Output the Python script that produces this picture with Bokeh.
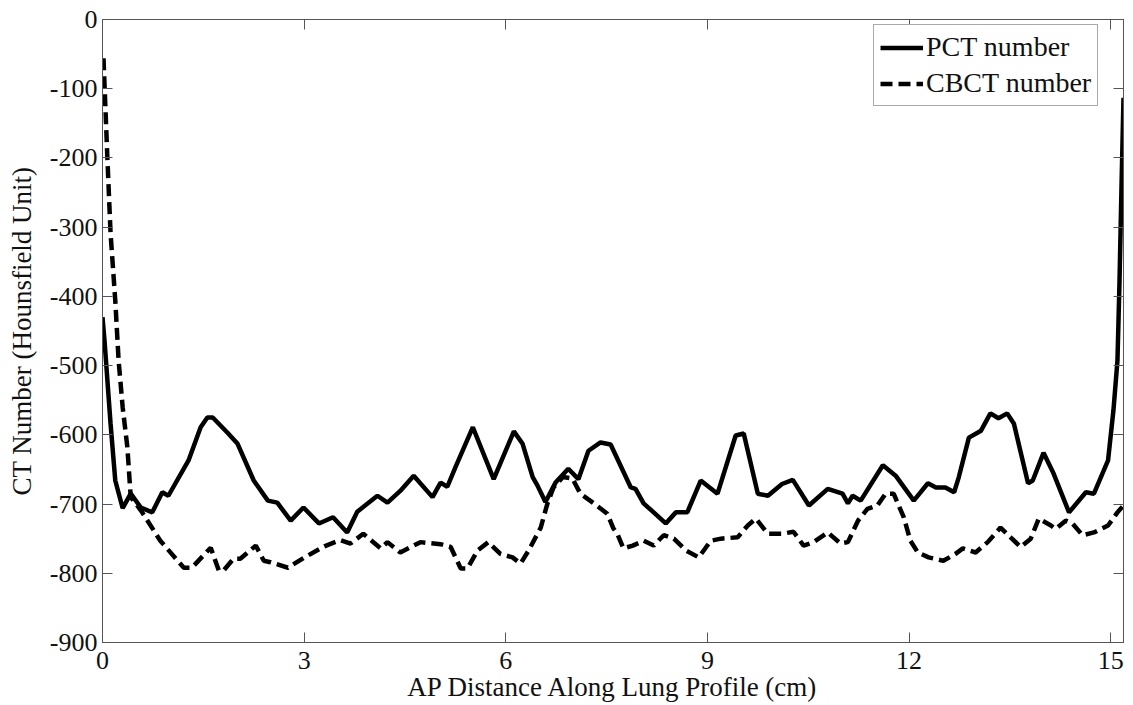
from bokeh.plotting import figure
from bokeh.models import LinearAxis, FixedTicker, Range1d, Legend, LegendItem
from bokeh.embed import file_html
from bokeh.resources import INLINE

# ---- data ----
pct_x = [0.0, 0.03, 0.12, 0.19, 0.30, 0.42, 0.57, 0.74, 0.89, 0.98, 1.28, 1.46, 1.56, 1.64, 1.86,
         2.01, 2.25, 2.46, 2.60, 2.80, 2.99, 3.22, 3.43, 3.64, 3.79, 4.09, 4.24, 4.43, 4.63, 4.91,
         5.03, 5.13, 5.25, 5.51, 5.82, 6.12, 6.25, 6.40, 6.47, 6.59, 6.74, 6.93, 7.08, 7.23, 7.41,
         7.56, 7.86, 7.93, 8.05, 8.20, 8.38, 8.53, 8.70, 8.90, 9.15, 9.42, 9.54, 9.75, 9.90, 10.11,
         10.27, 10.51, 10.79, 11.01, 11.09, 11.16, 11.28, 11.61, 11.80, 12.07, 12.28, 12.40, 12.54,
         12.67, 12.74, 12.89, 13.07, 13.21, 13.33, 13.46, 13.56, 13.77, 13.84, 14.00, 14.15, 14.38,
         14.63, 14.75, 14.96, 15.04, 15.10, 15.13, 15.16, 15.19]
pct_y = [-430, -464, -584, -666, -706, -685, -705, -712, -683, -688, -637, -589, -575, -575, -597,
         -613, -666, -695, -698, -724, -705, -728, -719, -741, -711, -688, -698, -681, -659, -690,
         -669, -675, -647, -589, -664, -595, -613, -661, -673, -697, -669, -649, -664, -623, -611,
         -614, -676, -678, -699, -712, -728, -712, -712, -666, -685, -601, -598, -685, -688, -671,
         -665, -702, -678, -685, -699, -688, -695, -644, -659, -695, -670, -676, -676,
         -683, -661, -604, -594, -569, -576, -569, -584, -670, -666, -626, -656, -712,
         -683, -685, -637, -565, -493, -381, -243, -113]

cbct_x = [0.015, 0.07, 0.12, 0.19, 0.24, 0.30, 0.37, 0.42, 0.57, 0.86, 1.21, 1.33, 1.61, 1.73, 1.80,
          1.95, 2.05, 2.28, 2.40, 2.50, 2.76, 2.99, 3.30, 3.54, 3.69, 3.88, 4.14, 4.24, 4.43, 4.73,
          5.03, 5.18, 5.33, 5.43, 5.58, 5.74, 5.92, 6.10, 6.22, 6.34, 6.52, 6.62, 6.71, 6.85, 6.99,
          7.11, 7.31, 7.51, 7.60, 7.66, 7.75, 7.89, 8.05, 8.20, 8.35, 8.50, 8.68, 8.87, 9.05, 9.20,
          9.45, 9.60, 9.72, 9.90, 10.11, 10.28, 10.43, 10.58, 10.79, 10.98, 11.09, 11.24, 11.38,
          11.53, 11.65, 11.77, 11.92, 12.02, 12.13, 12.29, 12.51, 12.69, 12.80, 12.99, 13.17, 13.36,
          13.51, 13.66, 13.81, 13.93, 14.11, 14.18, 14.33, 14.43, 14.58, 14.75, 14.96, 15.10, 15.19]
cbct_y = [-56, -194, -309, -406, -493, -560, -618, -690, -709, -753, -792, -792, -763, -796, -796,
          -779, -779, -760, -782, -784, -792, -778, -761, -752, -757, -743, -764, -755, -770, -755,
          -758, -762, -793, -793, -767, -755, -772, -777, -786, -767, -734, -699, -676, -661, -663,
          -685, -699, -714, -735, -743, -764, -760, -753, -760, -745, -750, -767, -777, -753, -750,
          -748, -731, -721, -743, -743, -740, -760, -755, -741, -757, -755, -724, -707,
          -702, -685, -685, -719, -753, -770, -777, -782, -772, -764, -770, -755, -734,
          -748, -762, -750, -721, -731, -736, -724, -728, -745, -741, -731, -712, -702]

x_ticks = [0, 3, 6, 9, 12, 15]
y_ticks = [-900, -800, -700, -600, -500, -400, -300, -200, -100, 0]
series_names = ["PCT number", "CBCT number"]
x_label = "AP Distance Along Lung Profile (cm)"
y_label = "CT Number (Hounsfield Unit)"

FONT = "Liberation Serif"
AX = "#555555"

p = figure(width=1133, height=705, output_backend="svg", toolbar_location=None,
           x_range=Range1d(0, 15.19), y_range=Range1d(-900, 0),
           min_border_left=102, min_border_top=19, min_border_right=10, min_border_bottom=63)
p.grid.visible = False
p.outline_line_color = AX
p.background_fill_color = "white"
p.border_fill_color = "white"

r1 = p.line(pct_x, pct_y, line_color="black", line_width=4.5)
r2 = p.line(cbct_x, cbct_y, line_color="black", line_width=4.5, line_dash="12 6")

def style_axis(ax, ticks, show_labels):
    ax.ticker = FixedTicker(ticks=ticks)
    ax.axis_line_color = AX
    ax.major_tick_line_color = AX
    ax.major_tick_in = 10
    ax.major_tick_out = 0
    ax.minor_tick_line_color = None
    ax.major_label_text_font = FONT
    ax.major_label_text_color = "#111111"
    if show_labels:
        ax.major_label_text_font_size = "26px"
        ax.major_label_overrides = {t: str(t) for t in ticks}
    else:
        ax.major_label_text_font_size = "1px"
        ax.major_label_overrides = {t: "" for t in ticks}
    ax.axis_label_text_font = FONT
    ax.axis_label_text_font_style = "normal"
    ax.axis_label_text_font_size = "27px"
    ax.axis_label_text_color = "#111111"

xa = p.xaxis[0]
ya = p.yaxis[0]
style_axis(xa, x_ticks, True)
style_axis(ya, y_ticks, True)
xa.axis_label = x_label
ya.axis_label = y_label
xa.major_label_standoff = 9
xa.axis_label_standoff = 0
ya.major_label_standoff = 5
ya.axis_label_standoff = 10

top = LinearAxis()
style_axis(top, x_ticks, False)
top.major_label_standoff = 0
p.add_layout(top, "above")
right = LinearAxis()
style_axis(right, y_ticks, False)
right.major_label_standoff = 0
p.add_layout(right, "right")

legend = Legend(items=[LegendItem(label=series_names[0], renderers=[r1]),
                       LegendItem(label=series_names[1], renderers=[r2])],
                location=(771, 536))
legend.label_text_font = FONT
legend.label_text_font_size = "28px"
legend.label_text_color = "#111111"
legend.glyph_width = 43
legend.glyph_height = 29
legend.label_height = 29
legend.label_standoff = 3
legend.spacing = 4
legend.padding = 6
legend.margin = 0
legend.border_line_color = AX
legend.border_line_width = 1
legend.background_fill_alpha = 1
p.add_layout(legend, "center")

open("out.html", "w").write(file_html(p, INLINE))
